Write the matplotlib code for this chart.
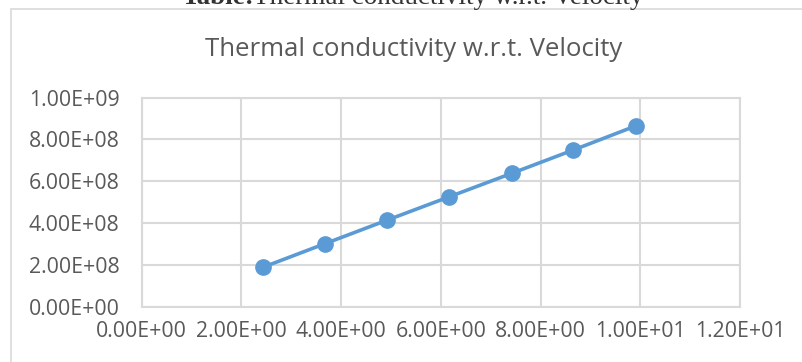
import numpy as np
import matplotlib
matplotlib.use("Agg")
from matplotlib import pyplot as plt
from matplotlib.patches import Rectangle
from matplotlib.ticker import FuncFormatter

# data
velocity = [2.43, 3.67, 4.92, 6.17, 7.42, 8.66, 9.91]
conductivity = [1.885e8, 3.01e8, 4.14e8, 5.26e8, 6.38e8, 7.50e8, 8.65e8]

x_ticks = [0, 2, 4, 6, 8, 10, 12]
y_ticks = [0, 2e8, 4e8, 6e8, 8e8, 1e9]

TEXT = "#595959"
GRID = "#d9d9d9"
BLUE = "#5b9bd5"
W, H = 803, 362


def sci(v, pos=None):
    return "%.2E" % v


fig = plt.figure(figsize=(W / 100, H / 100), dpi=100)

# chart border (cut off on the right and bottom)
fig.patches.append(Rectangle((11 / W, -0.1), 1.0, 1 - 9 / H + 0.1,
                             transform=fig.transFigure, fill=False,
                             edgecolor=GRID, linewidth=1.2))

# caption above the chart, clipped by the page edge
cap = fig.text(182 / W, 1 - 4 / H, "Table:", fontfamily="Liberation Serif",
               fontweight="bold", fontsize=19.5, color="#333333", va="baseline")
fig.text(253 / W, 1 - 4 / H, "Thermal conductivity w.r.t. Velocity",
         fontfamily="Liberation Serif", fontsize=19.5, color="#333333",
         va="baseline")

ax = fig.add_axes([141.7 / W, 1 - 306.7 / H, (740 - 141.7) / W, (306.7 - 97.7) / H])
ax.plot(velocity, conductivity, color=BLUE, linewidth=2.6, marker="o",
        markersize=11, solid_capstyle="round", zorder=3)

ax.set_xlim(0, 12)
ax.set_ylim(0, 1e9)
ax.set_xticks(x_ticks)
ax.set_yticks(y_ticks)
ax.xaxis.set_major_formatter(FuncFormatter(sci))
ax.yaxis.set_major_formatter(FuncFormatter(sci))
ax.grid(True, color=GRID, linewidth=1.5)
ax.set_axisbelow(True)
for s in ax.spines.values():
    s.set_color(GRID)
    s.set_linewidth(1.5)
ax.tick_params(length=0, colors=TEXT, labelsize=15.3)
ax.tick_params(axis="y", pad=16)
ax.tick_params(axis="x", pad=10)
for lab in ax.get_xticklabels() + ax.get_yticklabels():
    lab.set_fontfamily("Open Sans")

fig.text(414 / W, 1 - 50 / H, "Thermal conductivity w.r.t. Velocity",
         fontfamily="Open Sans", fontsize=18.5, color=TEXT,
         ha="center", va="center")

fig.savefig("out.png", dpi=100)
